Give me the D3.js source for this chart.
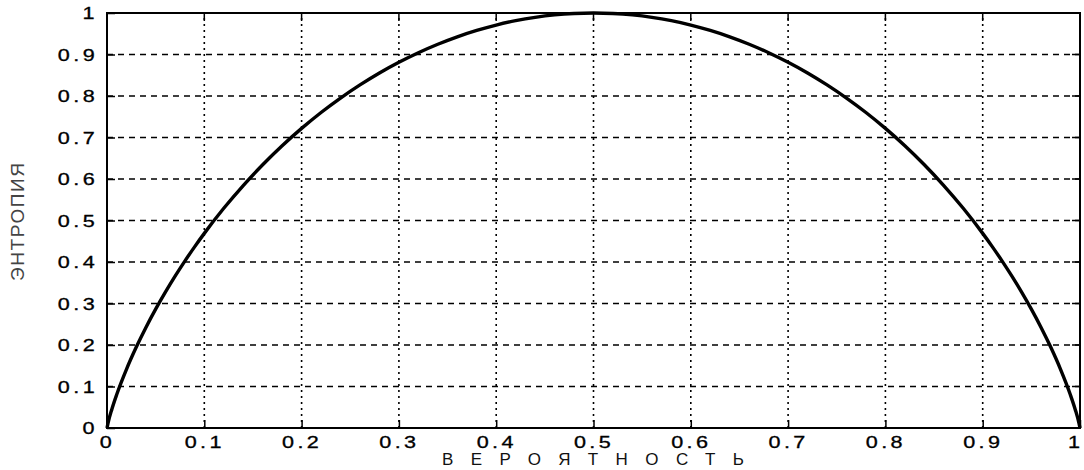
<!DOCTYPE html>
<html><head><meta charset="utf-8">
<script src="https://cdn.jsdelivr.net/npm/d3@7"></script>
<style>
body{margin:0;background:#fff;}
svg{display:block;}
</style></head>
<body>
<script>
const probability = [0,0.001,0.005,0.01,0.02,0.03,0.04,0.05,0.06,0.07,0.08,0.09,0.10,0.12,0.14,0.16,0.18,0.20,0.22,0.24,0.26,0.28,0.30,0.32,0.34,0.36,0.38,0.40,0.42,0.44,0.46,0.48,0.50,0.52,0.54,0.56,0.58,0.60,0.62,0.64,0.66,0.68,0.70,0.72,0.74,0.76,0.78,0.80,0.82,0.84,0.86,0.88,0.90,0.91,0.92,0.93,0.94,0.95,0.96,0.97,0.98,0.99,0.995,0.999,1];
const entropy = [0,0.0114,0.0454,0.0808,0.1414,0.1944,0.2423,0.2864,0.3274,0.3659,0.4022,0.4365,0.4690,0.5294,0.5842,0.6343,0.6801,0.7219,0.7602,0.7950,0.8267,0.8555,0.8813,0.9044,0.9248,0.9427,0.9580,0.9710,0.9815,0.9896,0.9954,0.9988,1.0,0.9988,0.9954,0.9896,0.9815,0.9710,0.9580,0.9427,0.9248,0.9044,0.8813,0.8555,0.8267,0.7950,0.7602,0.7219,0.6801,0.6343,0.5842,0.5294,0.4690,0.4365,0.4022,0.3659,0.3274,0.2864,0.2423,0.1944,0.1414,0.0808,0.0454,0.0114,0];
const xTicks = [0,0.1,0.2,0.3,0.4,0.5,0.6,0.7,0.8,0.9,1];
const yTicks = [0,0.1,0.2,0.3,0.4,0.5,0.6,0.7,0.8,0.9,1];
const xTitle = "ВЕРОЯТНОСТЬ";
const yTitle = "ЭНТРОПИЯ";

const W = 1084, H = 470;
const m = {left:107, right:4, top:13, bottom:42};
const svg = d3.select("body").append("svg").attr("width",W).attr("height",H);
const x = d3.scaleLinear().domain([0,1]).range([m.left, W-m.right]);
const y = d3.scaleLinear().domain([0,1]).range([H-m.bottom, m.top]);

const fmt = d => d===0 ? "0" : d===1 ? "1" : d3.format(".1f")(d);
const SX = 1.35;

// grid
const g = svg.append("g");
g.selectAll(".hg").data(yTicks.filter(d=>d>0&&d<1)).join("line")
  .attr("x1",x(0)).attr("x2",x(1)).attr("y1",d=>y(d)).attr("y2",d=>y(d))
  .attr("stroke","#000").attr("stroke-width",1.3).attr("stroke-dasharray","6,5");
g.selectAll(".vg").data(xTicks.filter(d=>d>0&&d<1)).join("line")
  .attr("y1",y(0)).attr("y2",y(1)).attr("x1",d=>x(d)).attr("x2",d=>x(d))
  .attr("stroke","#000").attr("stroke-width",1.6).attr("stroke-dasharray","2,4");

// axes
const xa = svg.append("g").attr("transform",`translate(0,${y(0)})`)
  .call(d3.axisBottom(x).tickValues(xTicks).tickFormat(fmt).tickSizeInner(-8).tickSizeOuter(0).tickPadding(9));
const ya = svg.append("g").attr("transform",`translate(${x(0)},0)`)
  .call(d3.axisLeft(y).tickValues(yTicks).tickFormat(fmt).tickSizeInner(-8).tickSizeOuter(0).tickPadding(9));
[xa,ya].forEach(a=>{
  a.select(".domain").remove();
  a.selectAll(".tick line").attr("stroke","#000").attr("stroke-width",1.5);
  a.selectAll(".tick text").attr("fill","#000")
   .style("font-family","Liberation Sans, Arial, sans-serif").style("font-size","16px")
   .style("letter-spacing","2.5px").attr("stroke","#000").attr("stroke-width",0.3)
   .attr("transform",`scale(${SX},1)`);
});
ya.selectAll(".tick text").attr("dy","0.35em").attr("x",-9/SX);
// keep last x label inside the canvas
xa.selectAll(".tick text").filter(d=>d===1).attr("text-anchor","end").attr("x",(W-1-x(1))/SX);

// right ticks and top ticks
svg.append("g").selectAll("line").data(yTicks).join("line")
  .attr("x1",x(1)).attr("x2",x(1)-8).attr("y1",d=>y(d)).attr("y2",d=>y(d))
  .attr("stroke","#000").attr("stroke-width",1.5);
svg.append("g").selectAll("line").data(xTicks).join("line")
  .attr("y1",y(1)).attr("y2",y(1)+8).attr("x1",d=>x(d)).attr("x2",d=>x(d))
  .attr("stroke","#000").attr("stroke-width",1.5);

// frame
svg.append("rect").attr("x",x(0)).attr("y",y(1)).attr("width",x(1)-x(0)).attr("height",y(0)-y(1))
  .attr("fill","none").attr("stroke","#000").attr("stroke-width",2);

// curve
const line = d3.line().x((d,i)=>x(probability[i])).y(d=>y(d)).curve(d3.curveMonotoneX);
svg.append("path").datum(entropy).attr("d",line).attr("fill","none")
  .attr("stroke","#000").attr("stroke-width",3.4).attr("stroke-linejoin","round");

// titles
svg.append("text").attr("x",442).attr("y",465)
  .attr("textLength",302).attr("lengthAdjust","spacing")
  .style("font-family","Liberation Sans, Arial, sans-serif").style("font-size","17px")
  .attr("fill","#111").text(xTitle);
svg.append("text").attr("transform","translate(24,281) rotate(-90)")
  .attr("textLength",118).attr("lengthAdjust","spacing")
  .style("font-family","Liberation Sans Narrow, Liberation Sans, Arial, sans-serif").style("font-size","19px")
  .attr("fill","#444").text(yTitle);
</script>
</body></html>
